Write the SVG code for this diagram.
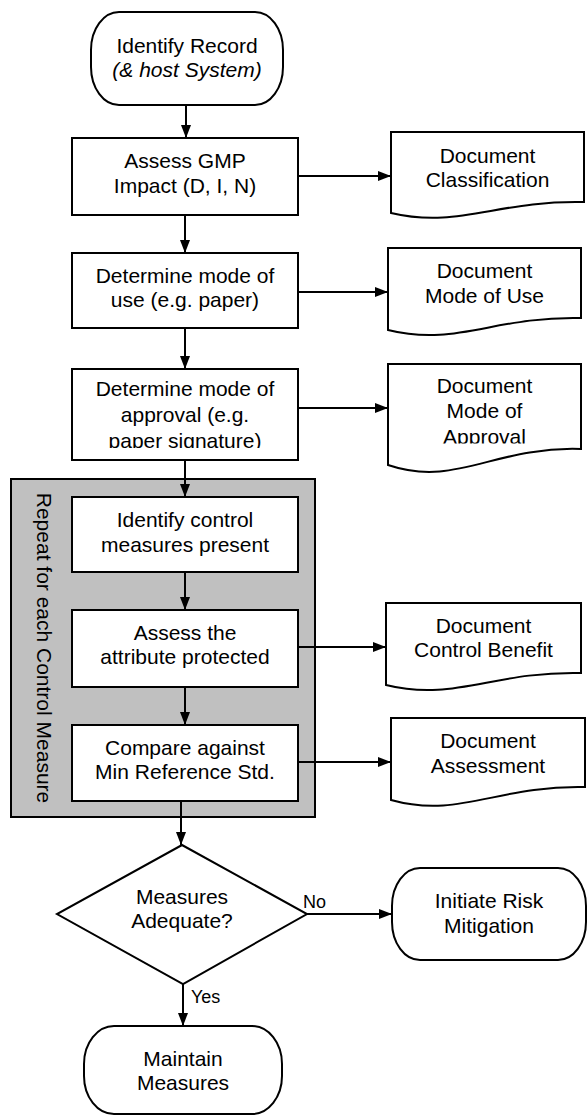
<svg xmlns="http://www.w3.org/2000/svg" width="587" height="1117" viewBox="0 0 587 1117">
<style>
.s{fill:#fff;stroke:#000;stroke-width:2}
.g{fill:#c0c0c0;stroke:#000;stroke-width:2}
.c{fill:none;stroke:#000;stroke-width:2}
text{font-family:"Liberation Sans",Arial,sans-serif;font-size:21px;fill:#000;text-anchor:middle}
.sm{font-size:18px;text-anchor:start}
.it{font-style:italic}
</style>
<defs>
<marker id="ah" markerWidth="13" markerHeight="10" refX="13" refY="5" orient="auto" markerUnits="userSpaceOnUse"><path d="M0,0 L13,5 L0,10 z" fill="#000"/></marker>
<clipPath id="cb4"><rect x="72" y="369" width="226" height="79"/></clipPath>
<clipPath id="cd3"><rect x="388" y="364" width="193" height="79.5"/></clipPath>
</defs>
<g id="loop">
<rect class="g" x="11" y="479" width="304" height="338"/>
<text transform="translate(37,648) rotate(90)">Repeat for each Control Measure</text>
</g>
<g id="connectors">
<line class="c" x1="186" y1="105" x2="186" y2="138" marker-end="url(#ah)"/>
<line class="c" x1="185" y1="215" x2="185" y2="253" marker-end="url(#ah)"/>
<line class="c" x1="185" y1="328" x2="185" y2="369" marker-end="url(#ah)"/>
<line class="c" x1="185" y1="460" x2="185" y2="497" marker-end="url(#ah)"/>
<line class="c" x1="185" y1="572" x2="185" y2="610" marker-end="url(#ah)"/>
<line class="c" x1="185" y1="687" x2="185" y2="725" marker-end="url(#ah)"/>
<line class="c" x1="181" y1="801" x2="181" y2="845" marker-end="url(#ah)"/>
<line class="c" x1="183" y1="984" x2="183" y2="1026" marker-end="url(#ah)"/>
<line class="c" x1="298" y1="176" x2="391" y2="176" marker-end="url(#ah)"/>
<line class="c" x1="298" y1="292" x2="388" y2="292" marker-end="url(#ah)"/>
<line class="c" x1="298" y1="408" x2="388" y2="408" marker-end="url(#ah)"/>
<line class="c" x1="298" y1="647" x2="386" y2="647" marker-end="url(#ah)"/>
<line class="c" x1="298" y1="762" x2="391" y2="762" marker-end="url(#ah)"/>
<line class="c" x1="307" y1="914" x2="392" y2="914" marker-end="url(#ah)"/>
<text class="sm" x="303" y="908">No</text>
<text class="sm" x="191" y="1003">Yes</text>
</g>
<g id="start">
<rect class="s" x="91" y="12" width="192" height="93" rx="28" ry="38"/>
<text x="187" y="53">Identify Record</text>
<text class="it" x="187" y="77">(&amp; host System)</text>
</g>
<g id="assess-gmp">
<rect class="s" x="72" y="138" width="226" height="77"/>
<text x="185" y="168">Assess GMP</text>
<text x="185" y="193">Impact (D, I, N)</text>
</g>
<g id="doc-classification">
<path class="s" d="M391,132 H584 V202 C497,200 459,229 391,213 Z"/>
<text x="487.5" y="163">Document</text>
<text x="487.5" y="187">Classification</text>
</g>
<g id="mode-of-use">
<rect class="s" x="72" y="253" width="226" height="75"/>
<text x="185" y="283">Determine mode of</text>
<text x="185" y="307">use (e.g. paper)</text>
</g>
<g id="doc-mode-of-use">
<path class="s" d="M388,248 H581 V318 C494,316 456,347 388,330 Z"/>
<text x="484.5" y="278">Document</text>
<text x="484.5" y="303">Mode of Use</text>
</g>
<g id="mode-of-approval">
<rect class="s" x="72" y="369" width="226" height="91"/>
<g clip-path="url(#cb4)">
<text x="185" y="396">Determine mode of</text>
<text x="185" y="422">approval (e.g.</text>
<text x="185" y="448">paper signature)</text>
</g>
</g>
<g id="doc-mode-of-approval">
<path class="s" d="M388,364 H581 V449 C494,446 456,488 388,465 Z"/>
<g clip-path="url(#cd3)">
<text x="484.5" y="393">Document</text>
<text x="484.5" y="418">Mode of</text>
<text x="484.5" y="443.5">Approval</text>
</g>
</g>
<g id="identify-controls">
<rect class="s" x="72" y="497" width="226" height="75"/>
<text x="185" y="527">Identify control</text>
<text x="185" y="552">measures present</text>
</g>
<g id="assess-attribute">
<rect class="s" x="72" y="610" width="226" height="77"/>
<text x="185" y="640">Assess the</text>
<text x="185" y="664">attribute protected</text>
</g>
<g id="doc-control-benefit">
<path class="s" d="M386,603 H581 V673 C493,671 454,702 386,685 Z"/>
<text x="483.5" y="633">Document</text>
<text x="483.5" y="657">Control Benefit</text>
</g>
<g id="compare">
<rect class="s" x="72" y="725" width="226" height="76"/>
<text x="185" y="755">Compare against</text>
<text x="185" y="779">Min Reference Std.</text>
</g>
<g id="doc-assessment">
<path class="s" d="M391,718 H585 V787 C498,785 459,819 391,800 Z"/>
<text x="488" y="748">Document</text>
<text x="488" y="773">Assessment</text>
</g>
<g id="decision">
<path class="s" d="M182,845 L307,914 L183,984 L57,914 Z"/>
<text x="182" y="904">Measures</text>
<text x="182" y="928">Adequate?</text>
</g>
<g id="risk-mitigation">
<rect class="s" x="392" y="868" width="194" height="92" rx="28" ry="38"/>
<text x="489" y="908">Initiate Risk</text>
<text x="489" y="933">Mitigation</text>
</g>
<g id="maintain">
<rect class="s" x="84" y="1026" width="198" height="88" rx="30" ry="38"/>
<text x="183" y="1066">Maintain</text>
<text x="183" y="1090">Measures</text>
</g>
</svg>
